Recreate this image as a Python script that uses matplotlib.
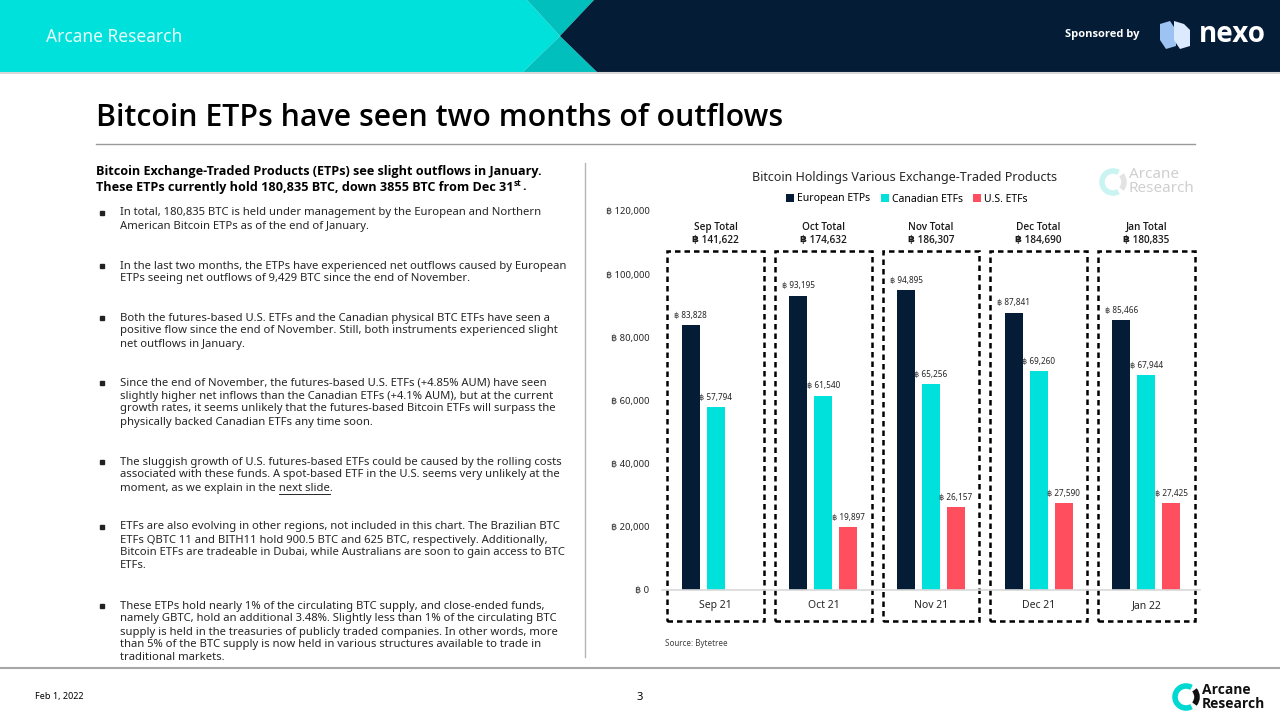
import numpy as np
import matplotlib
matplotlib.use('Agg')
import matplotlib.pyplot as plt
from matplotlib.patches import Polygon, Rectangle, Arc
from matplotlib import font_manager as fm

plt.rcParams['font.family'] = ['Noto Sans', 'DejaVu Sans']


def pick_family(cands, weight, key):
    for fam in cands:
        try:
            path = fm.findfont(fm.FontProperties(family=fam, weight=weight), fallback_to_default=False)
        except Exception:
            continue
        name = path.lower().replace(' ', '').replace('-', '')
        if fam.lower().replace(' ', '') in name and key in name:
            return fam
    return 'DejaVu Sans'


BOLD = pick_family(['Open Sans', 'Noto Sans', 'Lato', 'Roboto', 'Liberation Sans'], 'bold', 'bold')
SEMI = pick_family(['Open Sans', 'Noto Sans', 'Lato', 'Roboto'], 'semibold', 'semibold')
if SEMI == 'DejaVu Sans':
    SEMI = BOLD
BF = [BOLD, 'DejaVu Sans']
SF = [SEMI, 'DejaVu Sans']

# chart data
months = ['Sep 21', 'Oct 21', 'Nov 21', 'Dec 21', 'Jan 22']
total_names = ['Sep Total', 'Oct Total', 'Nov Total', 'Dec Total', 'Jan Total']
totals = [141622, 174632, 186307, 184690, 180835]
european = [83828, 93195, 94895, 87841, 85466]
canadian = [57794, 61540, 65256, 69260, 67944]
us_etfs = [np.nan, 19897, 26157, 27590, 27425]
series_names = ['European ETPs', 'Canadian ETFs', 'U.S. ETFs']
yticks = [0, 20000, 40000, 60000, 80000, 100000, 120000]

# text content
heading = ['Bitcoin Exchange-Traded Products (ETPs) see slight outflows in January.',
           'These ETPs currently hold 180,835 BTC, down 3855 BTC from Dec 31']
bullets = [
    ['In total, 180,835 BTC is held under management by the European and Northern',
     'American Bitcoin ETPs as of the end of January.'],
    ['In the last two months, the ETPs have experienced net outflows caused by European',
     'ETPs seeing net outflows of 9,429 BTC since the end of November.'],
    ['Both the futures-based U.S. ETFs and the Canadian physical BTC ETFs have seen a',
     'positive flow since the end of November. Still, both instruments experienced slight',
     'net outflows in January.'],
    ['Since the end of November, the futures-based U.S. ETFs (+4.85% AUM) have seen',
     'slightly higher net inflows than the Canadian ETFs (+4.1% AUM), but at the current',
     'growth rates, it seems unlikely that the futures-based Bitcoin ETFs will surpass the',
     'physically backed Canadian ETFs any time soon.'],
    ['The sluggish growth of U.S. futures-based ETFs could be caused by the rolling costs',
     'associated with these funds. A spot-based ETF in the U.S. seems very unlikely at the',
     'moment, as we explain in the next slide.'],
    ['ETFs are also evolving in other regions, not included in this chart. The Brazilian BTC',
     'ETFs QBTC 11 and BITH11 hold 900.5 BTC and 625 BTC, respectively. Additionally,',
     'Bitcoin ETFs are tradeable in Dubai, while Australians are soon to gain access to BTC',
     'ETFs.'],
    ['These ETPs hold nearly 1% of the circulating BTC supply, and close-ended funds,',
     'namely GBTC, hold an additional 3.48%. Slightly less than 1% of the circulating BTC',
     'supply is held in the treasuries of publicly traded companies. In other words, more',
     'than 5% of the BTC supply is now held in various structures available to trade in',
     'traditional markets.'],
]
bullet_top = [213, 266, 318, 383, 462, 527, 606]

NAVY = '#041c36'
CYAN = '#00e1dc'
TEAL = '#00bfbd'
RED = '#ff4f5e'
BODY = 8.1
HEAD = 9.1

fig = plt.figure(figsize=(12.8, 7.19), dpi=100)
fig.patch.set_facecolor('white')

# background axes in pixel coordinates
bg = fig.add_axes([0, 0, 1, 1])
bg.set_xlim(0, 1280)
bg.set_ylim(719, 0)
bg.axis('off')

# header
bg.add_patch(Polygon([(0, 0), (527, 0), (560, 36), (523, 72), (0, 72)], color=CYAN, lw=0))
bg.add_patch(Polygon([(527, 0), (594, 0), (560, 36)], color=TEAL, lw=0))
bg.add_patch(Polygon([(523, 72), (597, 72), (560, 36)], color=TEAL, lw=0))
bg.add_patch(Polygon([(594, 0), (1280, 0), (1280, 72), (597, 72), (560, 36)], color=NAVY, lw=0))
bg.plot([0, 1280], [73, 73], color='#d8d8d8', lw=1.5)
bg.text(46, 37, 'Arcane Research', color='#e6fffe', fontsize=12.5, va='center', ha='left')
bg.text(1065, 34, 'Sponsored by', color='white', fontsize=8.0, family=BF, fontweight='bold', va='center')
bg.add_patch(Polygon([(1160, 24), (1170, 21), (1176, 30), (1176, 46), (1166, 49), (1160, 40)],
                     color='#9cc3f2', lw=0))
bg.add_patch(Polygon([(1174, 21), (1184, 24), (1190, 30), (1190, 46), (1180, 49), (1174, 40)],
                     color='#dceaff', lw=0))
bg.text(1199, 34, 'nexo', color='white', fontsize=20, family=BF, fontweight='bold', va='center')

# title
bg.text(96, 118, 'Bitcoin ETPs have seen two months of outflows', fontsize=21.8, family=SF,
        fontweight='semibold', color='black', va='center', ha='left')
bg.plot([96, 1195], [144, 144], color='#9a9a9a', lw=1)

# left column text
h1 = bg.text(96, 172, heading[0], fontsize=HEAD, family=BF, fontweight='bold', va='center', color='black')
h2 = bg.text(96, 187, heading[1], fontsize=HEAD, family=BF, fontweight='bold', va='center', color='black')
fig.canvas.draw()
r = fig.canvas.get_renderer()
ext = h2.get_window_extent(r)
st = bg.text(ext.x1 + 0.5, 183, 'st', fontsize=6, family=BF, fontweight='bold', va='center')
st_w = st.get_window_extent(r).width
bg.text(ext.x1 + 1 + st_w, 187, '.', fontsize=HEAD, family=BF, fontweight='bold', va='center')

for top, lines in zip(bullet_top, bullets):
    bg.plot(102, top, marker='s', ms=2.6, color='#222222')
    for k, line in enumerate(lines):
        t = bg.text(120, top + 13 * k, line, fontsize=BODY, va='center', color='#262626')
        if 'next slide' in line:
            w_all = bg.text(0, 0, line.rstrip('.'), fontsize=BODY, alpha=0).get_window_extent(r).width
            w_link = bg.text(0, 0, 'next slide', fontsize=BODY, alpha=0).get_window_extent(r).width
            x0 = t.get_window_extent(r).x0
            bg.plot([x0 + w_all - w_link, x0 + w_all], [top + 13 * k + 6] * 2, color='#262626', lw=0.7)

bg.plot([585, 585], [163, 657], color='#b5b5b5', lw=1)
bg.plot([0, 1280], [668, 668], color='#a6a6a6', lw=1.5)

# footer
bg.text(35, 697, 'Feb 1, 2022', fontsize=6.5, va='center', color='black')
bg.text(640, 697, '3', fontsize=8, va='center', ha='center', color='black')


def logo(cx, cy, rad, ring, bar, txt, fs, weight):
    bg.add_patch(Arc((cx, cy), 2 * rad, 2 * rad, theta1=60, theta2=300, color=ring, lw=4))
    bg.add_patch(Arc((cx, cy), 2 * rad, 2 * rad, theta1=-40, theta2=40, color=bar, lw=4))
    fam = BF if weight == 'bold' else None
    bg.text(cx + rad + 5, cy - 7, 'Arcane', fontsize=fs, family=fam, fontweight=weight, va='center', color=txt)
    bg.text(cx + rad + 5, cy + 7, 'Research', fontsize=fs, family=fam, fontweight=weight, va='center', color=txt)


logo(1186, 697, 11, '#00d8d2', '#111111', '#111111', 10, 'bold')
logo(1113, 182, 11, '#c9f4f2', '#e3e3e3', '#cfcfcf', 11, 'normal')

# chart
ax = fig.add_axes([662 / 1280, 129 / 719, 538 / 1280, 379 / 719])
ax.patch.set_alpha(0)
x = np.arange(len(months))
off = 0.232
w = 0.168
b1 = ax.bar(x - off, european, w, color=NAVY)
b2 = ax.bar(x, canadian, w, color=CYAN)
b3 = ax.bar(x + off, us_etfs, w, color=RED)
for bars, vals in [(b1, european), (b2, canadian), (b3, us_etfs)]:
    for rect, v in zip(bars, vals):
        if np.isnan(v):
            continue
        ax.annotate('฿ {:,}'.format(int(v)), (rect.get_x() + rect.get_width() / 2, v),
                    xytext=(0, 7), textcoords='offset points', ha='center', va='center',
                    fontsize=5.9, color='#262626')

ax.set_xlim(-0.5, 4.5)
ax.set_ylim(0, 120000)
ax.set_yticks(yticks)
ax.set_yticklabels(['฿ {:,}'.format(v) for v in yticks], fontsize=6.8, color='#262626')
ax.tick_params(axis='y', length=0, pad=9)
ax.set_xticks([])
for s in ['top', 'right', 'left']:
    ax.spines[s].set_visible(False)
ax.spines['bottom'].set_color('#d9d9d9')
ax.spines['bottom'].set_linewidth(1.2)

for i in x:
    ax.add_patch(Rectangle((i - 0.45, -9815), 0.9, 117150, fill=False, ec='black', lw=1.8,
                           ls=(0, (2.2, 1.6)), clip_on=False))
    ax.text(i, -5000, months[i], ha='center', va='center', fontsize=7.5, color='#262626')
    ax.text(i, 112700, '{}\n฿ {:,}'.format(total_names[i], totals[i]), ha='center', va='center',
            fontsize=7.2, family=SF, fontweight='semibold', color='#1a1a1a', linespacing=1.3)

fig.text(905 / 1280, 1 - 177 / 719, 'Bitcoin Holdings Various Exchange-Traded Products',
         ha='center', va='center', fontsize=9.0, color='#262626')
fig.legend([b1, b2, b3], series_names, loc='center', bbox_to_anchor=(907 / 1280, 1 - 199 / 719),
           ncol=3, frameon=False, fontsize=7.5, handlelength=0.75, handleheight=0.75,
           handletextpad=0.3, columnspacing=1.0, borderpad=0)
bg.text(665, 643, 'Source: Bytetree', fontsize=5.8, va='center', color='#404040')

fig.savefig('out.png', dpi=100)
